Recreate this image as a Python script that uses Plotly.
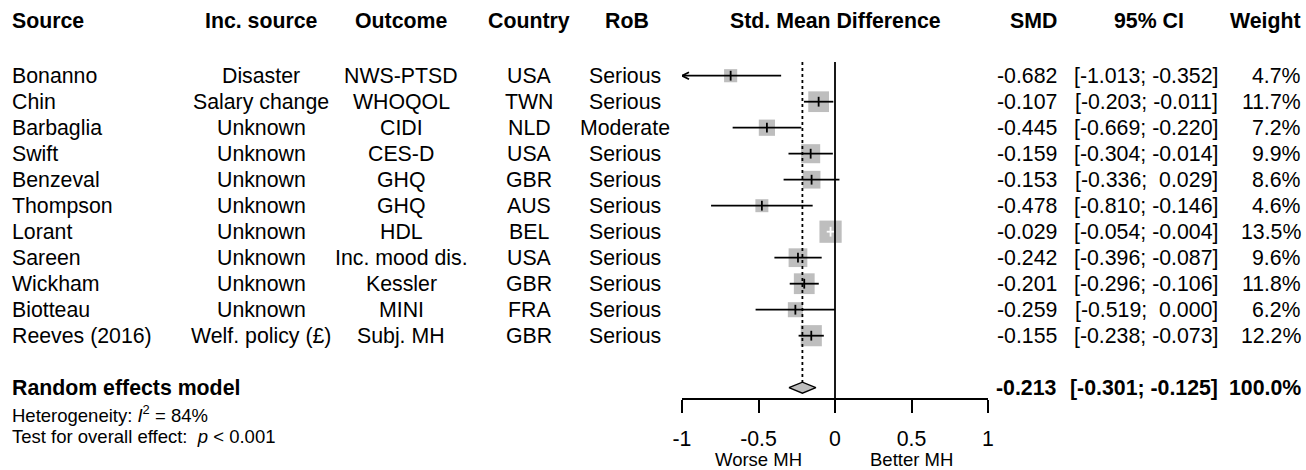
import plotly.graph_objects as go

# ---- study-level data ----
studies = ["Bonanno", "Chin", "Barbaglia", "Swift", "Benzeval", "Thompson",
           "Lorant", "Sareen", "Wickham", "Biotteau", "Reeves (2016)"]
inc_source = ["Disaster", "Salary change", "Unknown", "Unknown", "Unknown", "Unknown",
              "Unknown", "Unknown", "Unknown", "Unknown", "Welf. policy (£)"]
outcome = ["NWS-PTSD", "WHOQOL", "CIDI", "CES-D", "GHQ", "GHQ",
           "HDL", "Inc. mood dis.", "Kessler", "MINI", "Subj. MH"]
country = ["USA", "TWN", "NLD", "USA", "GBR", "AUS", "BEL", "USA", "GBR", "FRA", "GBR"]
rob = ["Serious", "Serious", "Moderate", "Serious", "Serious", "Serious",
       "Serious", "Serious", "Serious", "Serious", "Serious"]
smd = [-0.682, -0.107, -0.445, -0.159, -0.153, -0.478, -0.029, -0.242, -0.201, -0.259, -0.155]
ci_lower = [-1.013, -0.203, -0.669, -0.304, -0.336, -0.810, -0.054, -0.396, -0.296, -0.519, -0.238]
ci_upper = [-0.352, -0.011, -0.220, -0.014, 0.029, -0.146, -0.004, -0.087, -0.106, 0.000, -0.073]
weight = [4.7, 11.7, 7.2, 9.9, 8.6, 4.6, 13.5, 9.6, 11.8, 6.2, 12.2]

# ---- pooled (random effects) result ----
pooled_smd = -0.213
pooled_lower = -0.301
pooled_upper = -0.125
pooled_weight = 100.0
i_squared = 84
p_text = "&lt; 0.001"

# ---- axis ----
tick_vals = [-1, -0.5, 0, 0.5, 1]
tick_text = ["-1", "-0.5", "0", "0.5", "1"]
x_min, x_max = -1, 1

# ---- page geometry (pixels) ----
W, H = 1306, 470
ROW0, ROW_H = 75.7, 26.0          # centre of first study row, row pitch
AXIS_PX = 399                      # vertical position of the x axis line
PX_PER_UNIT = (988 - 682) / 2.0    # horizontal scale of the effect axis
BOX_K = 6.05                       # square side (px) per sqrt(weight %)
LW = 1.8                           # line width for CI / reference lines

FONT = "Liberation Sans, Arial, Helvetica, sans-serif"
FS = 21.3
FS_SMALL = 18.5
GREY = "#BEBEBE"
NB = "\u00a0"


def row_of(px):
    return (px - ROW0) / ROW_H


def fmt_num(v):
    return f"{v:6.3f}".replace(" ", NB)


def fmt_ci(lo, hi):
    return f"[{fmt_num(lo)};{NB}{fmt_num(hi)}]"


def box_half(i):
    return BOX_K * weight[i] ** 0.5 / 2 / PX_PER_UNIT


def ci_inside_box(i):
    return ci_lower[i] > smd[i] - box_half(i) and ci_upper[i] < smd[i] + box_half(i)


rows = list(range(len(studies)))
summary_row = len(studies) + 1
header_row = row_of(20.7)
axis_row = row_of(AXIS_PX)
top_row = row_of(62)

fig = go.Figure()

# weight squares
fig.add_trace(go.Scatter(
    x=smd, y=rows, mode="markers",
    marker=dict(symbol="square", color=GREY, opacity=1,
                size=[BOX_K * w ** 0.5 for w in weight], line=dict(width=0)),
    hoverinfo="skip", showlegend=False))

# confidence intervals (white when the interval lies inside its square);
# intervals running past the axis limit end in an arrow
black_x, black_y, white_x, white_y = [], [], [], []
head_len = 7 / PX_PER_UNIT
head_half = 3.5 / ROW_H
for i in rows:
    lo, hi = ci_lower[i], ci_upper[i]
    if ci_inside_box(i):
        white_x += [lo, hi, None]
        white_y += [i, i, None]
        continue
    lo_c, hi_c = max(lo, x_min), min(hi, x_max)
    black_x += [lo_c, hi_c, None]
    black_y += [i, i, None]
    if lo < x_min:
        black_x += [lo_c + head_len, lo_c, lo_c + head_len, None]
        black_y += [i - head_half, i, i + head_half, None]
    if hi > x_max:
        black_x += [hi_c - head_len, hi_c, hi_c - head_len, None]
        black_y += [i - head_half, i, i + head_half, None]

fig.add_trace(go.Scatter(x=black_x, y=black_y, mode="lines",
                         line=dict(color="black", width=LW),
                         hoverinfo="skip", showlegend=False))
fig.add_trace(go.Scatter(x=white_x, y=white_y, mode="lines",
                         line=dict(color="white", width=LW),
                         hoverinfo="skip", showlegend=False))

# point estimate ticks
tick_colors = ["white" if ci_inside_box(i) else "black" for i in rows]
fig.add_trace(go.Scatter(
    x=smd, y=rows, mode="markers",
    marker=dict(symbol="line-ns", size=7, opacity=1,
                line=dict(color=tick_colors, width=LW)),
    hoverinfo="skip", showlegend=False))

# line of no effect and pooled estimate reference line
fig.add_trace(go.Scatter(x=[0, 0], y=[top_row, axis_row], mode="lines",
                         line=dict(color="black", width=LW),
                         hoverinfo="skip", showlegend=False))
diamond_h = 5.5 / ROW_H
fig.add_trace(go.Scatter(x=[pooled_smd, pooled_smd], y=[top_row, summary_row - diamond_h],
                         mode="lines",
                         line=dict(color="black", width=LW, dash="3px,3px"),
                         hoverinfo="skip", showlegend=False))

# pooled diamond
fig.add_trace(go.Scatter(
    x=[pooled_lower, pooled_smd, pooled_upper, pooled_smd, pooled_lower],
    y=[summary_row, summary_row - diamond_h, summary_row, summary_row + diamond_h, summary_row],
    mode="lines", fill="toself", fillcolor=GREY,
    line=dict(color="black", width=1.4),
    hoverinfo="skip", showlegend=False))

annotations = []


def txt(text, px, row, anchor, size=FS, bold=False, xref="paper"):
    if bold:
        text = f"<b>{text}</b>"
    x = px / W if xref == "paper" else px
    annotations.append(dict(
        x=x, y=row, xref=xref, yref="y", text=text, showarrow=False,
        xanchor=anchor, yanchor="middle", borderpad=0,
        font=dict(family=FONT, size=size, color="black")))


# column headers
txt("Source", 11, header_row, "left", bold=True)
txt("Inc. source", 261, header_row, "center", bold=True)
txt("Outcome", 401, header_row, "center", bold=True)
txt("Country", 529, header_row, "center", bold=True)
txt("RoB", 627, header_row, "center", bold=True)
txt("Std. Mean Difference", 0, header_row, "center", bold=True, xref="x")
txt("SMD", 1058, header_row, "right", bold=True)
txt("95% CI", 1149, header_row, "center", bold=True)
txt("Weight", 1302, header_row, "right", bold=True)

# study rows
for i in rows:
    txt(studies[i], 11, i, "left")
    txt(inc_source[i], 261, i, "center")
    txt(outcome[i], 401, i, "center")
    txt(country[i], 529, i, "center")
    txt(rob[i], 625, i, "center")
    txt(f"{smd[i]:.3f}", 1058, i, "right")
    txt(fmt_ci(ci_lower[i], ci_upper[i]), 1219, i, "right")
    txt(f"{weight[i]:.1f}%", 1302, i, "right")

# pooled row
txt("Random effects model", 11, summary_row, "left", bold=True)
txt(f"{pooled_smd:.3f}", 1058, summary_row, "right", bold=True)
txt(fmt_ci(pooled_lower, pooled_upper), 1219, summary_row, "right", bold=True)
txt(f"{pooled_weight:.1f}%", 1302, summary_row, "right", bold=True)

txt(f"Heterogeneity: <i>I</i><sup>2</sup> = {i_squared}%", 11, row_of(414.2), "left", size=FS_SMALL)
txt(f"Test for overall effect:{NB}{NB}<i>p</i> {p_text}", 11, row_of(436.5), "left", size=FS_SMALL)

# axis direction labels
txt("Worse MH", -0.5, row_of(459.5), "center", size=FS_SMALL, xref="x")
txt("Better MH", 0.5, row_of(459.5), "center", size=FS_SMALL, xref="x")

fig.update_layout(
    width=W, height=H,
    margin=dict(l=0, r=0, t=0, b=0, autoexpand=False),
    paper_bgcolor="white", plot_bgcolor="white",
    showlegend=False,
    annotations=annotations,
    xaxis=dict(
        domain=[682 / W, 988 / W], range=[x_min, x_max],
        anchor="free", position=(H - AXIS_PX) / H,
        showgrid=False, zeroline=False,
        showline=True, linecolor="black", linewidth=LW,
        ticks="outside", ticklen=13, tickwidth=LW, tickcolor="black",
        tickvals=tick_vals, ticktext=tick_text, ticklabelstandoff=8,
        tickfont=dict(family=FONT, size=FS, color="black"),
        automargin=False, fixedrange=True),
    yaxis=dict(
        domain=[0, 1], range=[row_of(H), row_of(0)],
        visible=False, fixedrange=True),
)

fig.write_html("out.html")
